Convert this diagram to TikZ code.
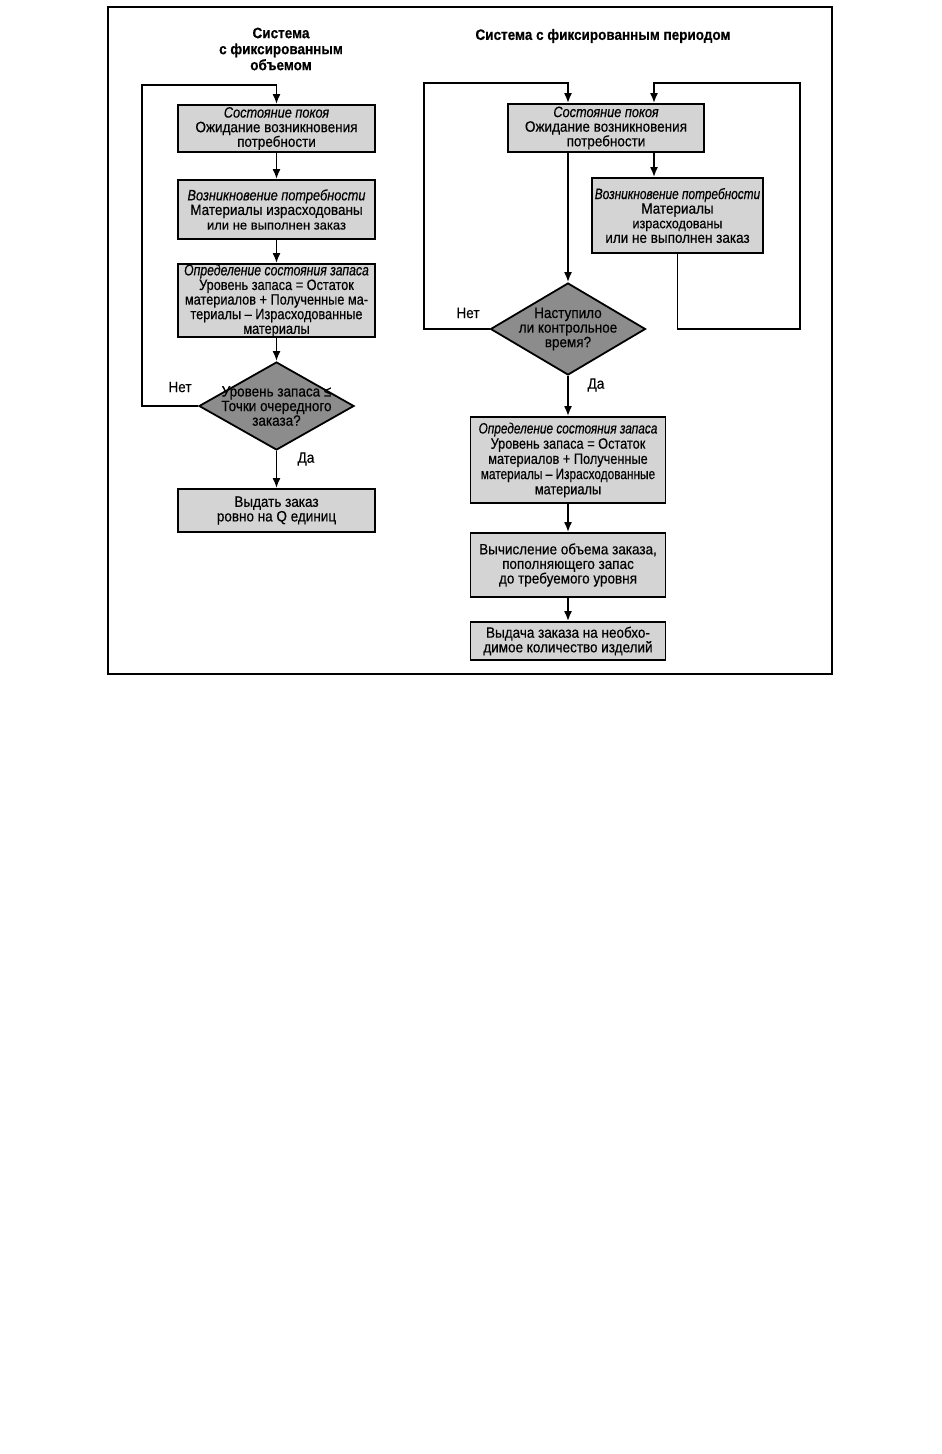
\documentclass[tikz,border=0pt]{standalone}
\usepackage{fontspec}
\setmainfont{Liberation Sans}[FakeStretch=0.9, FakeBold=0.4]
\newfontfamily\nfa{Liberation Sans}[FakeStretch=0.85, FakeBold=0.4]
\newfontfamily\nfb{Liberation Sans}[FakeStretch=0.79, FakeBold=0.4]
\newfontfamily\nfw{Liberation Sans}[FakeStretch=1.0, FakeBold=0.4]
\usetikzlibrary{arrows.meta,shapes.geometric,calc}
\definecolor{boxgray}{HTML}{D4D4D4}
\definecolor{diagray}{HTML}{8C8C8C}
\tikzset{
  box/.style={draw=black, line width=1.8pt, fill=boxgray, inner sep=0pt, align=center,
              font=\fontsize{15}{14.6}\selectfont},
  dia/.style={draw=black, line width=1.8pt, fill=diagray, diamond, inner sep=0pt, aspect=1.76},
  diatext/.style={align=center, font=\fontsize{15}{14.6}\selectfont, inner sep=0pt},
  arr/.style={line width=1.8pt, -{Latex[length=10pt,width=8pt]}},
  lbl/.style={font=\fontsize{15}{15}\selectfont, inner sep=0pt},
  ttl/.style={font=\fontsize{15}{16}\selectfont\bfseries, align=center, inner sep=0pt},
}
\begin{document}
\begin{tikzpicture}[x=1pt,y=-1pt]
\useasboundingbox (0,0) rectangle (942,1454);
% frame
\draw[line width=1.6pt] (108,7) rectangle (832,674);

% ---------- left system ----------
\node[ttl] (lt) at (281,49) {Система\\с фиксированным\\объемом};
\node[box, minimum width=197, minimum height=47] (l1) at (276.5,128.5)
  {{\nfa\itshape Состояние покоя}\\Ожидание возникновения\\потребности};
\node[box, minimum width=197, minimum height=59] (l2) at (276.5,209.5)
  {{\nfa\itshape Возникновение потребности}\\Материалы израсходованы\\{\nfw\fontsize{13}{15.5}\selectfont или не выполнен заказ}};
\node[box, minimum width=197, minimum height=73, font=\nfa\fontsize{15}{14.6}\selectfont] (l3) at (276.5,300.5)
  {{\nfb\itshape\fontsize{15.5}{14.6}\selectfont Определение состояния запаса}\\Уровень запаса = Остаток\\материалов + Полученные ма-\\териалы – Израсходованные\\материалы};
\node[dia, minimum width=155, minimum height=88] (ld) at (276.5,406) {};
\node[diatext] (ldt) at (ld.center) {Уровень запаса ≤\\Точки очередного\\заказа?};
\node[box, minimum width=197, minimum height=43] (l4) at (276.5,510.5)
  {Выдать заказ\\ровно на Q единиц};
\coordinate (lc) at (142,85);

\draw[arr] (ld.west) -| (lc) -| (l1.north);
\draw[arr] (l1) -- (l2);
\draw[arr] (l2) -- (l3);
\draw[arr] (l3) -- (ld.north);
\draw[arr] (ld.south) -- (l4);
\node[lbl] (lno) at (180,387) {Нет};
\node[lbl] (lyes) at (306,459) {Да};

% ---------- right system ----------
\node[ttl] (rt) at (603,36) {Система с фиксированным периодом};
\node[box, minimum width=196, minimum height=48] (r1) at (606,128)
  {{\nfa\itshape Состояние покоя}\\Ожидание возникновения\\потребности};
\node[box, minimum width=171, minimum height=75] (r2) at (677.5,215.5)
  {{\nfb\itshape Возникновение потребности}\\Материалы\\{\fontsize{14}{15.5}\selectfont израсходованы}\\или не выполнен заказ};
\node[dia, minimum width=155, minimum height=92] (rd) at (568,329) {};
\node[diatext] (rdt) at (rd.center) {Наступило\\ли контрольное\\время?};
\node[box, minimum width=195, minimum height=86, font=\nfa\fontsize{15}{15.2}\selectfont] (r3) at (568,460)
  {{\nfb\itshape Определение состояния запаса}\\Уровень запаса = Остаток\\материалов + Полученные\\{\nfb материалы – Израсходованные}\\материалы};
\node[box, minimum width=195, minimum height=64] (r4) at (568,565)
  {Вычисление объема заказа,\\пополняющего запас\\до требуемого уровня};
\node[box, minimum width=195, minimum height=38] (r5) at (568,641)
  {Выдача заказа на необхо-\\димое количество изделий};
\coordinate (rlc) at (424,83);
\coordinate (rtop) at (654,83);
\coordinate (rrc) at (800,83);
\coordinate (rrb) at (800,329);

\draw[arr] (rd.west) -| (rlc) -| (rd |- r1.north);
\draw[arr] (r2.south) |- (rrb) -- (rrc) -- (rtop) -- (rtop |- r1.north);
\draw[arr] (rtop |- r1.south) -- (rtop |- r2.north);
\draw[arr] (rd |- r1.south) -- (rd.north);
\draw[arr] (rd.south) -- (r3);
\draw[arr] (r3) -- (r4);
\draw[arr] (r4) -- (r5);
\node[lbl] (rno) at (468,313) {Нет};
\node[lbl] (ryes) at (596,385) {Да};
\end{tikzpicture}
\end{document}
